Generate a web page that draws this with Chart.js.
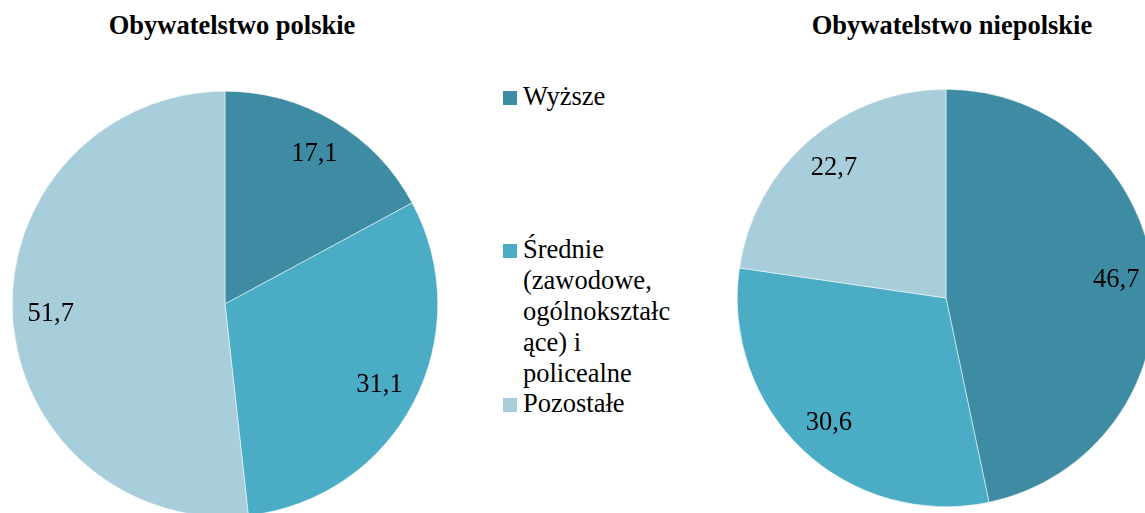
<!DOCTYPE html>
<html><head><meta charset="utf-8">
<script src="https://cdn.jsdelivr.net/npm/chart.js@4/dist/chart.umd.min.js"></script>
<style>
html,body{margin:0;padding:0;width:1145px;height:513px;overflow:hidden;background:#fff;}
body{font-family:"Liberation Serif","Times New Roman",serif;}
.title{position:absolute;top:9.5px;font-weight:bold;font-size:26.5px;line-height:31px;color:#000;white-space:nowrap;transform:translateX(-50%);}
canvas{position:absolute;}
#legend{position:absolute;left:503px;top:80.5px;font-size:26.5px;line-height:31px;color:#000;}
.li{position:absolute;left:0;white-space:nowrap;}
.sw{position:absolute;left:0;top:10.5px;width:14px;height:14px;}
.lt{position:absolute;left:20px;top:0;}
</style></head><body>
<div class="title" id="t1" style="left:232px"></div>
<div class="title" id="t2" style="left:952px"></div>
<canvas id="c1" width="426" height="426" style="left:12px;top:91px"></canvas>
<canvas id="c2" width="418" height="418" style="left:737px;top:89px"></canvas>
<div id="legend"></div>
<script>
const titles = ["Obywatelstwo polskie", "Obywatelstwo niepolskie"];
const categories = ["Wyższe", "Średnie (zawodowe, ogólnokształcące) i policealne", "Pozostałe"];
const legendLines = [["Wyższe"], ["Średnie", "(zawodowe,", "ogólnokształc", "ące) i", "policealne"], ["Pozostałe"]];
const polishValues = [17.1, 31.1, 51.7];
const nonPolishValues = [46.7, 30.6, 22.7];
const colors = ["#3D8CA3", "#4BACC6", "#A9CEDB"];

document.getElementById('t1').textContent = titles[0];
document.getElementById('t2').textContent = titles[1];

const legendTops = [0, 153, 307];
const lg = document.getElementById('legend');
legendLines.forEach((lines, i) => {
  const d = document.createElement('div');
  d.className = 'li';
  d.style.top = legendTops[i] + 'px';
  const sw = document.createElement('div');
  sw.className = 'sw'; sw.style.background = colors[i];
  d.appendChild(sw);
  const t = document.createElement('div');
  t.className = 'lt';
  lines.forEach((s, k) => { if (k) t.appendChild(document.createElement('br')); t.appendChild(document.createTextNode(s)); });
  d.appendChild(t);
  lg.appendChild(d);
});

const LABEL_FONT = '26.5px "Liberation Serif", "Times New Roman", serif';
const labelPlugin = {
  id: 'sliceLabels',
  afterDatasetsDraw(chart) {
    const ctx = chart.ctx;
    const meta = chart.getDatasetMeta(0);
    const data = chart.data.datasets[0].data;
    ctx.save();
    ctx.font = LABEL_FONT;
    ctx.fillStyle = '#000';
    ctx.textAlign = 'center';
    ctx.textBaseline = 'middle';
    meta.data.forEach((arc, i) => {
      const mid = (arc.startAngle + arc.endAngle) / 2;
      const r = arc.outerRadius * 0.82;
      const x = arc.x + Math.cos(mid) * r;
      const y = arc.y + Math.sin(mid) * r;
      ctx.fillText(data[i].toFixed(1).replace('.', ','), x, y);
    });
    ctx.restore();
  }
};

function makePie(id, values) {
  new Chart(document.getElementById(id), {
    type: 'pie',
    data: { labels: categories, datasets: [{ data: values, backgroundColor: colors, borderColor: '#ffffff', borderWidth: 0.5 }] },
    options: {
      responsive: false, animation: false,
      layout: { padding: 0 },
      plugins: { legend: { display: false }, tooltip: { enabled: false }, title: { display: false } }
    },
    plugins: [labelPlugin]
  });
}
function draw() {
  makePie('c1', polishValues);
  makePie('c2', nonPolishValues);
}
if (document.fonts && document.fonts.load) {
  document.fonts.load(LABEL_FONT, '0123456789,').then(draw, draw);
} else { draw(); }
</script>
</body></html>
